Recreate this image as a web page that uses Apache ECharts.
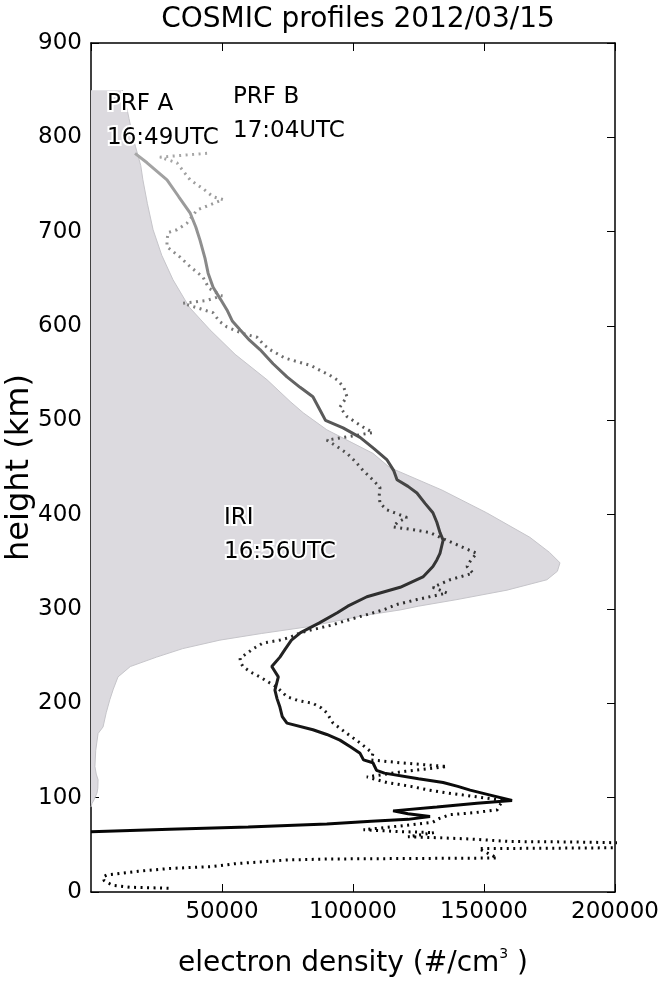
<!DOCTYPE html>
<html>
<head>
<meta charset="utf-8">
<script src="https://cdn.jsdelivr.net/npm/echarts@6/dist/echarts.min.js"></script>
<style>
  html, body { margin: 0; padding: 0; background: #ffffff; }
  #chart { width: 660px; height: 985px; }
</style>
</head>
<body>
<div id="chart"></div>
<script>
// Axis ranges (electron density on x, height on y)
const xMin = 0, xMax = 200000, xStep = 50000;
const yMin = 0, yMax = 900, yStep = 100;

// IRI model profile, 16:56UTC (height km / electron density)
const iriKm = [850, 840, 820, 800, 790, 782, 770, 755, 730, 702, 675, 649, 620, 596, 570, 543, 520, 508, 490, 465, 450, 426, 402, 376, 360, 349, 340, 331, 320, 310, 303, 299, 293, 288, 281, 274, 267, 258, 249, 239, 228, 215, 204, 190, 175, 168, 150, 133, 125, 119, 110, 105, 98, 94, 90];
const iriNe = [12000, 13000, 14500, 16000, 17000, 17800, 19000, 19800, 21500, 23700, 27000, 31300, 37500, 45400, 55000, 67200, 76000, 81000, 90000, 107600, 114000, 134000, 151000, 167500, 175000, 179000, 178000, 174000, 158800, 139700, 125000, 118000, 104000, 95000, 82400, 65000, 49200, 35000, 25000, 15000, 10300, 8500, 7200, 5800, 4600, 2700, 1800, 1500, 2000, 2700, 2600, 2300, 1200, 400, 0];

// COSMIC profile A, 16:49UTC
const prfAKm = [783, 773, 755, 737, 720, 705, 691, 672, 656, 641, 628, 617, 605, 596, 585, 575, 560, 546, 535, 525, 511, 500, 492, 482, 470, 458, 447, 437, 430, 423, 412, 402, 392, 381, 373, 366, 359, 352, 345, 334, 323, 313, 303, 296, 285, 275, 267, 257, 249, 239, 228, 214, 205, 196, 186, 179, 172, 167, 161, 154, 147, 140, 137, 129, 126, 120, 116, 112, 108, 103, 97, 94, 90, 86, 83, 80, 77, 75, 72, 69, 66.5, 64];
const prfANe = [16800, 21400, 29000, 33500, 37800, 40000, 41600, 43500, 44700, 46600, 49500, 51900, 54000, 56900, 60500, 64500, 69500, 74800, 79800, 84700, 87400, 89500, 96200, 102700, 108000, 113000, 115500, 116800, 121000, 124400, 127500, 130500, 132000, 133200, 134400, 133800, 133200, 132000, 130500, 126700, 118000, 105300, 98000, 94000, 87000, 80000, 76500, 74000, 72100, 69000, 71500, 70200, 71000, 72100, 73000, 74800, 84700, 90000, 95000, 99000, 102700, 104000, 107600, 109000, 112000, 125000, 134400, 140000, 144700, 152000, 160700, 147300, 132000, 115300, 121000, 129400, 121000, 107000, 90000, 60000, 30000, 0];

// COSMIC profile B, 17:04UTC
const prfBKm = [783, 781, 779, 773, 765, 755, 745, 737, 734, 728, 723, 709, 702, 699, 690, 684, 673, 663, 652, 640, 632, 627, 624, 618, 614, 605, 599, 592, 588, 580, 575, 566, 562, 558, 553, 548, 543, 535, 525, 514, 504, 498, 493, 487, 479, 472, 465, 456, 447, 437, 429, 420, 412, 405, 397, 392, 387, 384, 381, 375, 370, 364, 359, 352, 345, 338, 331, 323, 317, 310, 305, 299, 293, 288, 283, 280, 275, 270, 267, 264, 258, 253, 248, 244, 239, 233, 228, 222, 217, 207, 203, 200, 195, 190, 179, 168, 158, 147, 140, 137, 135, 133, 128, 122, 116, 112, 108, 105, 101, 97, 92, 87, 84, 82, 78, 74, 70, 66, 65, 64, 63, 58.5, 57.5, 56, 53.5, 53, 52, 47, 46.5, 46, 36, 35.5, 35, 34, 30, 27, 25, 22, 20, 18, 16, 12, 9, 7, 5, 4];
const prfBNe = [44300, 35000, 26300, 32800, 35000, 37800, 43000, 46600, 50400, 45000, 40500, 36600, 32800, 29400, 29000, 29000, 34000, 37800, 42700, 45000, 50000, 44000, 35100, 42000, 46600, 49000, 51900, 58000, 63400, 66000, 68300, 74000, 79000, 84000, 87400, 91000, 93900, 96500, 97700, 95000, 97700, 101000, 103800, 107600, 90000, 94000, 97700, 101000, 103800, 107500, 110300, 110000, 110300, 113000, 120600, 117000, 115300, 123000, 129400, 134000, 138200, 143000, 147300, 145000, 143500, 145800, 137000, 130500, 135900, 124400, 117000, 111500, 104000, 97700, 92000, 87400, 80000, 76000, 72100, 65700, 62000, 59500, 56900, 57000, 58000, 61000, 64500, 68000, 71000, 74800, 79000, 84700, 88000, 90000, 92400, 97700, 102700, 107600, 107000, 118000, 127000, 135900, 120000, 105300, 113000, 122000, 129000, 135900, 147000, 157300, 156000, 155000, 146000, 137000, 133000, 130500, 118000, 104000, 104000, 118000, 131000, 121000, 133000, 146000, 160000, 185000, 205000, 205000, 180000, 148000, 155000, 120000, 91000, 75000, 55000, 46600, 30200, 18000, 12200, 6000, 4600, 5000, 7000, 8400, 15000, 30200];

const FONT = 'DejaVu Sans';

const pairs = (xs, ys) => xs.map((x, i) => [x, ys[i]]);

const chart = echarts.init(document.getElementById('chart'), null, { renderer: 'canvas' });

const baseAxisLine = { show: true, onZero: false, lineStyle: { color: '#000', width: 1.5 } };
const baseTick = { show: true, inside: true, length: 8, lineStyle: { color: '#000', width: 1 } };

chart.setOption({
  animation: false,
  backgroundColor: '#ffffff',
  title: {
    text: 'COSMIC profiles 2012/03/15',
    left: 353,
    top: 1,
    textAlign: 'center',
    textStyle: { fontFamily: FONT, fontSize: 28, fontWeight: 'normal', color: '#000' }
  },
  grid: { left: 91, right: 45, top: 43, bottom: 93, containLabel: false, outerBoundsMode: 'none' },
  xAxis: [
    {
      type: 'value', position: 'bottom', min: xMin, max: xMax, interval: xStep,
      axisLine: baseAxisLine, axisTick: baseTick, splitLine: { show: false },
      axisLabel: {
        showMinLabel: false, margin: 9, color: '#000', fontSize: 23, fontFamily: FONT,
        formatter: (v) => String(v)
      },
      name: 'electron density (#/cm{sup|3} )',
      nameLocation: 'middle',
      nameGap: 55,
      nameTextStyle: {
        fontFamily: FONT, fontSize: 28, color: '#000', lineHeight: 34,
        rich: { sup: { fontFamily: FONT, fontSize: 14, color: '#000', verticalAlign: 'top', lineHeight: 18 } }
      }
    },
    {
      type: 'value', position: 'top', min: xMin, max: xMax, interval: xStep,
      axisLine: baseAxisLine, axisTick: baseTick, splitLine: { show: false },
      axisLabel: { show: false }
    }
  ],
  yAxis: [
    {
      type: 'value', position: 'left', min: yMin, max: yMax, interval: yStep,
      axisLine: baseAxisLine, axisTick: baseTick, splitLine: { show: false },
      axisLabel: { margin: 9, color: '#000', fontSize: 23, fontFamily: FONT },
      name: 'height (km)',
      nameLocation: 'middle',
      nameGap: 55,
      nameMoveOverlap: false,
      nameTextStyle: { fontFamily: FONT, fontSize: 32, color: '#000' }
    },
    {
      type: 'value', position: 'right', min: yMin, max: yMax, interval: yStep,
      axisLine: baseAxisLine, axisTick: baseTick, splitLine: { show: false },
      axisLabel: { show: false }
    }
  ],
  visualMap: {
    show: false,
    type: 'continuous',
    dimension: 1,
    seriesIndex: [1, 2],
    min: 0,
    max: 800,
    inRange: { color: ['#000000', '#080808', '#1a1a1a', '#2c2c2c', '#3e3e3e', '#585858', '#777777', '#939393', '#ababab'] }
  },
  series: [
    {
      // IRI: shaded region between zero density and the model profile
      type: 'custom',
      name: 'IRI',
      xAxisIndex: 0, yAxisIndex: 0,
      data: pairs(iriNe, iriKm),
      encode: { x: 0, y: 1 },
      z: 1,
      silent: true,
      renderItem: function (params, api) {
        if (params.dataIndex !== 0) return null;
        const edge = iriKm.map((h, i) => api.coord([iriNe[i], h]));
        const pts = [api.coord([0, iriKm[0]])].concat(edge, [api.coord([0, iriKm[iriKm.length - 1]])]);
        return {
          type: 'group',
          children: [
            { type: 'polygon', shape: { points: pts }, style: { fill: '#dcdadf', stroke: null } },
            { type: 'polyline', shape: { points: edge }, style: { stroke: '#c6c5ca', lineWidth: 1, fill: null } }
          ]
        };
      }
    },
    {
      type: 'line',
      name: 'PRF B',
      xAxisIndex: 0, yAxisIndex: 0,
      data: pairs(prfBNe, prfBKm),
      symbol: 'none',
      showSymbol: false,
      z: 3,
      lineStyle: { width: 3, type: [2, 4.5], cap: 'butt' }
    },
    {
      type: 'line',
      name: 'PRF A',
      xAxisIndex: 0, yAxisIndex: 0,
      data: pairs(prfANe, prfAKm),
      symbol: 'none',
      showSymbol: false,
      z: 4,
      lineStyle: { width: 3 }
    }
  ],
  graphic: [
    {
      type: 'text', left: 105, top: 87, z: 100,
      style: { text: 'PRF A\n16:49UTC', fontFamily: FONT, fontSize: 23, lineHeight: 34, fill: '#000', stroke: '#ffffff', lineWidth: 4 }
    },
    {
      type: 'text', left: 231, top: 80, z: 100,
      style: { text: 'PRF B\n17:04UTC', fontFamily: FONT, fontSize: 23, lineHeight: 34, fill: '#000', stroke: '#ffffff', lineWidth: 4 }
    },
    {
      type: 'text', left: 222, top: 501, z: 100,
      style: { text: 'IRI\n16:56UTC', fontFamily: FONT, fontSize: 23, lineHeight: 34, fill: '#000', stroke: '#ffffff', lineWidth: 4 }
    }
  ]
});
</script>
</body>
</html>
